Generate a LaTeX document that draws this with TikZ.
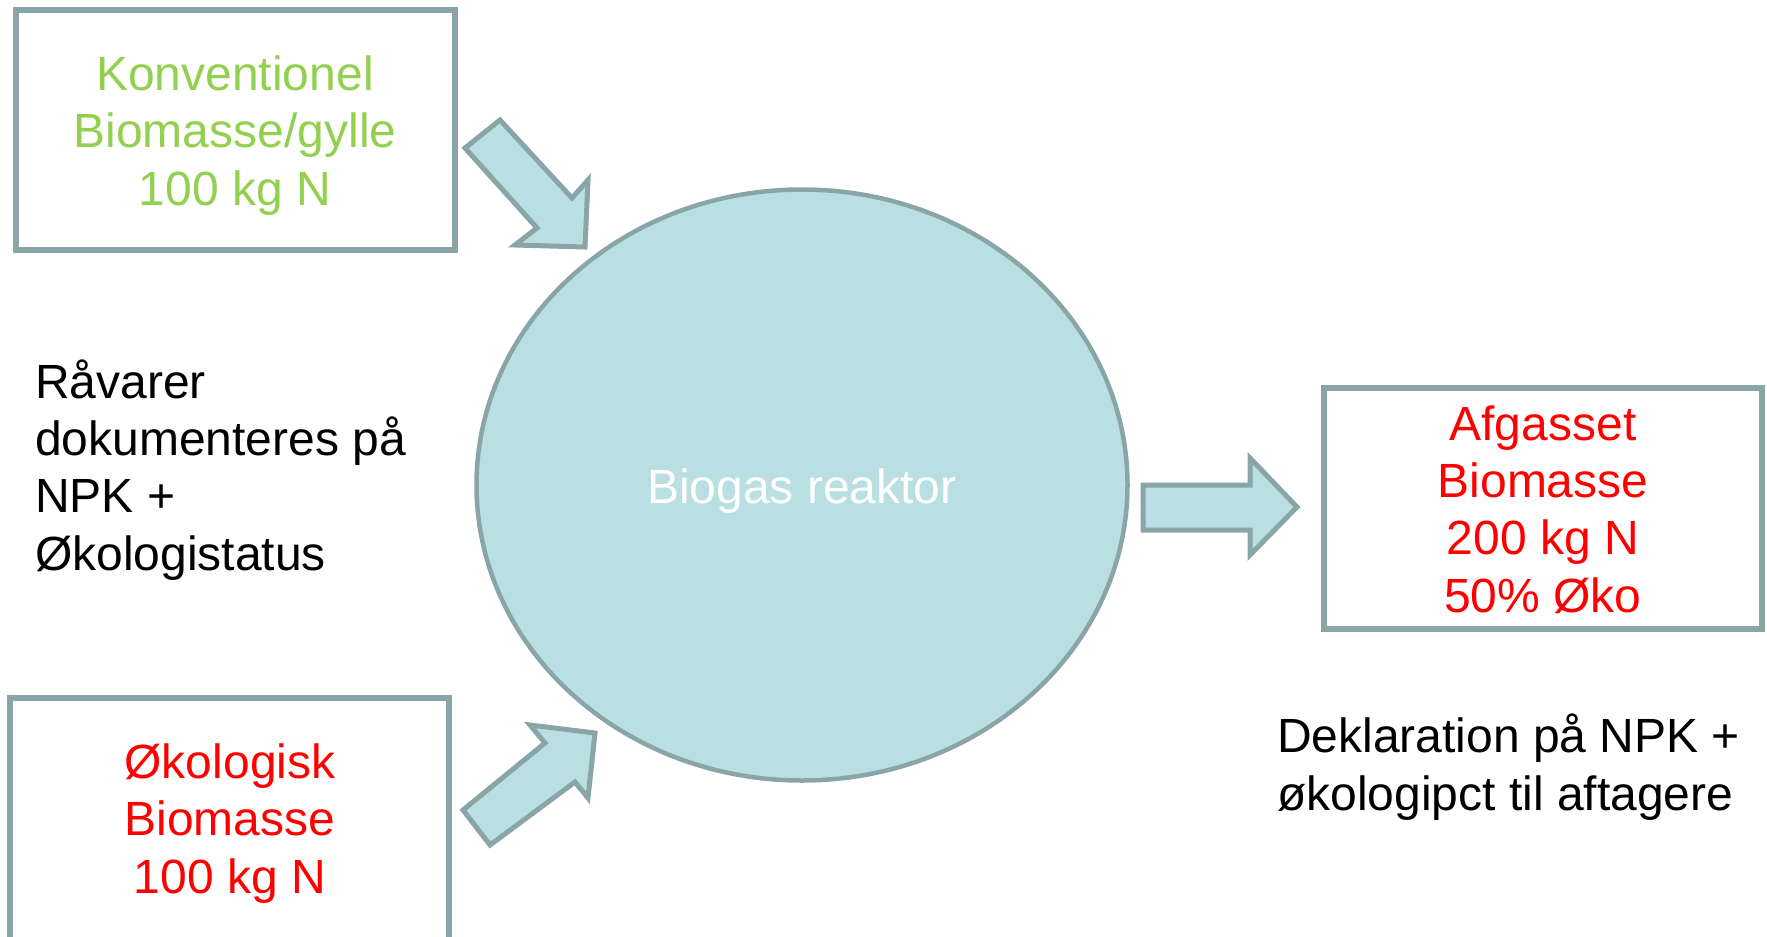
\documentclass[tikz,border=0pt]{standalone}
\usepackage{fontspec}
\setmainfont{Liberation Sans}
\usetikzlibrary{shapes.geometric}
\definecolor{bord}{RGB}{137,165,168}
\definecolor{fillb}{RGB}{185,223,227}
\definecolor{kgreen}{RGB}{146,208,80}
\definecolor{kred}{RGB}{255,0,0}
\begin{document}
\begin{tikzpicture}[x=1pt,y=-1pt,
  box/.style={draw=bord,line width=5.5pt,fill=white,inner sep=0pt,outer sep=0pt},
  lbl/.style={font=\fontsize{48}{57.3}\selectfont,inner sep=0pt,anchor=base},
  barrow/.style={draw=bord,fill=fillb,line width=5pt,line join=miter}]
\useasboundingbox (0,0) rectangle (1767,937);

% boxes
\node[box,minimum width=439pt,minimum height=240pt] (konv) at (235.5,130) {};
\draw[box] (10,945) |- (449,698) -- (449,945);
\coordinate (oko) at (229.5,820);
\node[box,minimum width=438pt,minimum height=241pt] (afg) at (1543,508.5) {};

% reactor
\node[ellipse,draw=bord,fill=fillb,line width=4.5pt,minimum width=651pt,minimum height=591pt,inner sep=0pt] (reak) at (802,485) {};
\node[lbl,text=white] (reaktxt) at (802,503) {Biogas reaktor};

% block arrows
\draw[barrow] (465,148) -- (500,120) -- (572,198) -- (588,180) -- (585,247) -- (515,245) -- (537,228) -- cycle;
\draw[barrow] (490,845) -- (575,782) -- (588,798) -- (595,733) -- (530,725) -- (545,743) -- (463,810) -- cycle;
\draw[barrow] (1143,485) -- (1250,485) -- (1250,458) -- (1297,507) -- (1250,555) -- (1250,530) -- (1143,530) -- cycle;

% texts (base anchor = baseline of last line)
\node[lbl,text=kgreen,align=center] (konvtxt) at (235,205) {Konventionel\\Biomasse/gylle\\100 kg N};
\node[lbl,text=kred,align=center] (okotxt) at (230,893) {Økologisk\\Biomasse\\100 kg N};
\node[lbl,text=kred,align=center] (afgtxt) at (1543,612) {Afgasset\\Biomasse\\200 kg N\\50\% Øko};
\node[lbl,anchor=base west,align=left] (ravtxt) at (35,570) {Råvarer\\dokumenteres på\\NPK +\\Økologistatus};
\node[lbl,anchor=base west,align=left] (dektxt) at (1277,810) {Deklaration på NPK +\\økologipct til aftagere};
\end{tikzpicture}
\end{document}
